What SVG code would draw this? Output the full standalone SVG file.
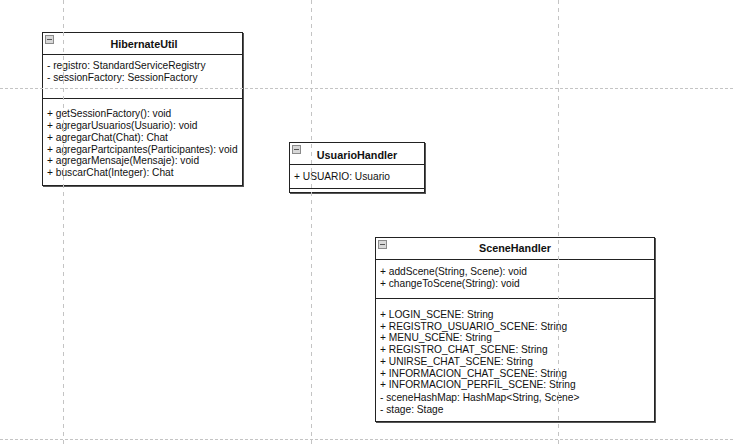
<svg xmlns="http://www.w3.org/2000/svg" width="735" height="448" viewBox="0 0 735 448">
  <defs>
    <style>
      .box { fill: #ffffff; stroke: #222222; stroke-width: 1; }
      .shadow { fill: none; stroke: #555555; stroke-width: 1; }
      .sep { stroke: #222222; stroke-width: 1; }
      .title { font-family: "Liberation Sans", Arial, sans-serif; font-size: 10.8px; font-weight: bold; fill: #111111; text-anchor: middle; }
      .member { font-family: "Liberation Sans", Arial, sans-serif; font-size: 10.2px; fill: #111111; }
      .grid-v { stroke: #c4c4c4; stroke-width: 1; stroke-dasharray: 4 4; }
      .grid-h { stroke: #c4c4c4; stroke-width: 1; stroke-dasharray: 3 2; }
      .icon { fill: #d8d8d8; stroke: #8a8a8a; stroke-width: 1; }
      .icon-bar { stroke: #555555; stroke-width: 1; }
    </style>
    <g id="collapse-icon">
      <rect class="icon" x="0.5" y="0.5" width="8" height="8"/>
      <line class="icon-bar" x1="2" y1="4.5" x2="7" y2="4.5"/>
    </g>
  </defs>

  <rect width="735" height="448" fill="#ffffff"/>

  <!-- class HibernateUtil -->
  <g id="HibernateUtil">
    <rect class="shadow" x="43.5" y="33.5" width="200" height="153"/>
    <rect class="box" x="42.5" y="32.5" width="200" height="153"/>
    <use href="#collapse-icon" x="45" y="35"/>
    <text class="title" x="144" y="48">HibernateUtil</text>
    <line class="sep" x1="42.5" y1="54.5" x2="242.5" y2="54.5"/>
    <text class="member" x="47" y="69">- registro: StandardServiceRegistry</text>
    <text class="member" x="47" y="81">- sessionFactory: SessionFactory</text>
    <line class="sep" x1="42.5" y1="98.5" x2="242.5" y2="98.5"/>
    <text class="member" x="47" y="117">+ getSessionFactory(): void</text>
    <text class="member" x="47" y="129">+ agregarUsuarios(Usuario): void</text>
    <text class="member" x="47" y="141">+ agregarChat(Chat): Chat</text>
    <text class="member" x="47" y="152.5">+ agregarPartcipantes(Participantes): void</text>
    <text class="member" x="47" y="164">+ agregarMensaje(Mensaje): void</text>
    <text class="member" x="47" y="176">+ buscarChat(Integer): Chat</text>
  </g>

  <!-- class UsuarioHandler -->
  <g id="UsuarioHandler">
    <rect class="shadow" x="290.5" y="143.5" width="135" height="50"/>
    <rect class="box" x="289.5" y="142.5" width="135" height="50"/>
    <use href="#collapse-icon" x="292" y="145"/>
    <text class="title" x="357" y="159">UsuarioHandler</text>
    <line class="sep" x1="289.5" y1="164.5" x2="424.5" y2="164.5"/>
    <text class="member" x="294" y="179.5">+ USUARIO: Usuario</text>
    <line class="sep" x1="289.5" y1="188.5" x2="424.5" y2="188.5"/>
  </g>

  <!-- class SceneHandler -->
  <g id="SceneHandler">
    <rect class="shadow" x="376.5" y="238.5" width="279" height="184"/>
    <rect class="box" x="375.5" y="237.5" width="279" height="184"/>
    <use href="#collapse-icon" x="378" y="240"/>
    <text class="title" x="515" y="252">SceneHandler</text>
    <line class="sep" x1="375.5" y1="259.5" x2="654.5" y2="259.5"/>
    <text class="member" x="380" y="274.5">+ addScene(String, Scene): void</text>
    <text class="member" x="380" y="286.5">+ changeToScene(String): void</text>
    <line class="sep" x1="375.5" y1="298.5" x2="654.5" y2="298.5"/>
    <text class="member" x="380" y="317.5">+ LOGIN_SCENE: String</text>
    <text class="member" x="380" y="329.5">+ REGISTRO_USUARIO_SCENE: String</text>
    <text class="member" x="380" y="340.5">+ MENU_SCENE: String</text>
    <text class="member" x="380" y="352.5">+ REGISTRO_CHAT_SCENE: String</text>
    <text class="member" x="380" y="364.5">+ UNIRSE_CHAT_SCENE: String</text>
    <text class="member" x="380" y="376.5">+ INFORMACION_CHAT_SCENE: String</text>
    <text class="member" x="380" y="388">+ INFORMACION_PERFIL_SCENE: String</text>
    <text class="member" x="380" y="400.5">- sceneHashMap: HashMap&lt;String, Scene&gt;</text>
    <text class="member" x="380" y="412.5">- stage: Stage</text>
  </g>

  <!-- page grid guides, drawn over the canvas -->
  <g id="connectors">
    <line class="grid-v" x1="63.5" y1="0" x2="63.5" y2="448"/>
    <line class="grid-v" x1="311.5" y1="0" x2="311.5" y2="448"/>
    <line class="grid-v" x1="558.5" y1="0" x2="558.5" y2="448"/>
    <line class="grid-h" x1="0" y1="88.5" x2="735" y2="88.5"/>
    <line class="grid-h" x1="0" y1="439.5" x2="735" y2="439.5"/>
  </g>
</svg>
